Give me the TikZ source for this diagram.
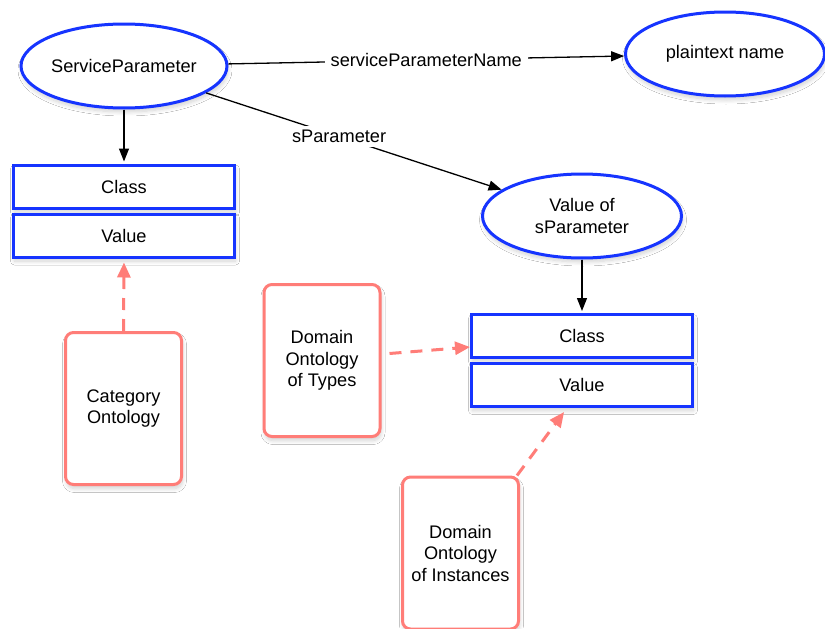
\documentclass[tikz,border=0pt]{standalone}
\usepackage{fontspec}
\setmainfont{Liberation Sans}
\usetikzlibrary{arrows.meta,shapes.geometric,shadows.blur,calc}
\definecolor{conceptblue}{RGB}{22,52,255}
\definecolor{ontopink}{RGB}{255,125,120}
\tikzset{
  soft/.style={blur shadow={shadow xshift=1pt,shadow yshift=-4pt,shadow blur steps=8,shadow blur radius=4pt,shadow opacity=18}},
  concept/.style={ellipse,draw=conceptblue,line width=3pt,fill=white,
    minimum width=199pt,minimum height=84pt,inner sep=0pt,align=center,soft},
  slot/.style={rectangle,draw=conceptblue,line width=3pt,fill=white,
    minimum width=221pt,minimum height=43pt,inner sep=0pt,soft},
  onto/.style={rectangle,rounded corners=8pt,draw=ontopink,line width=3pt,fill=white,
    minimum width=116pt,minimum height=152pt,inner sep=0pt,align=center,soft},
  rel/.style={draw=black,line width=1.3pt,-{Triangle[length=13pt,width=10pt]}},
  ref/.style={draw=ontopink,line width=3pt,dash pattern=on 12pt off 9pt,
    -{Triangle[length=15pt,width=13pt]}},
  lab/.style={fill=white,inner sep=6pt}
}
\begin{document}
\begin{tikzpicture}[x=1pt,y=-1pt,font=\fontsize{18.2}{21.5}\selectfont]
\useasboundingbox[fill=white] (0,0) rectangle (825,629);

% concepts
\node[concept] (sp) at (124,66) {ServiceParameter};
\node[concept] (pt) at (725,54) {plaintext name};
\node[concept] (vs) at (582,216) {Value of\\sParameter};

% class / value slots
\node[slot] (c1) at (124,186.5) {Class};
\node[slot] (v1) at (124,235.5) {Value};
\node[slot] (c2) at (582,336) {Class};
\node[slot] (v2) at (582,385) {Value};

% ontologies
\node[onto] (cat) at (123.5,408.5) {Category\\Ontology};
\node[onto] (dtp) at (322,360.5) {Domain\\Ontology\\of Types};
\node[onto] (din) at (460.5,553) {Domain\\Ontology\\of Instances};

% relations
\draw[rel] (sp) -- node[lab]{serviceParameterName} (pt);
\draw[rel] (sp) -- node[lab,pos=0.45,inner sep=4pt]{sParameter} (vs);
\draw[rel,shorten >=2pt] (sp.south) -- (c1.north);
\draw[rel,shorten >=2pt] (vs.south) -- (c2.north);

% ontology references
\coordinate (dtpout) at ($(dtp.east)+(8,-7)$);
\coordinate (c2in) at ($(c2.south west)!0.26!(c2.north west)$);
\coordinate (dinout) at ($(din.north east)+(-3,0)$);
\coordinate (v2in) at ($(v2.south west)!0.42!(v2.south east)+(0,4)$);
\draw[ref,shorten >=4pt] (cat.north) -- (v1.south);
\draw[ref] (dtpout) -- (c2in);
\draw[ref] (dinout) -- (v2in);
\end{tikzpicture}
\end{document}
